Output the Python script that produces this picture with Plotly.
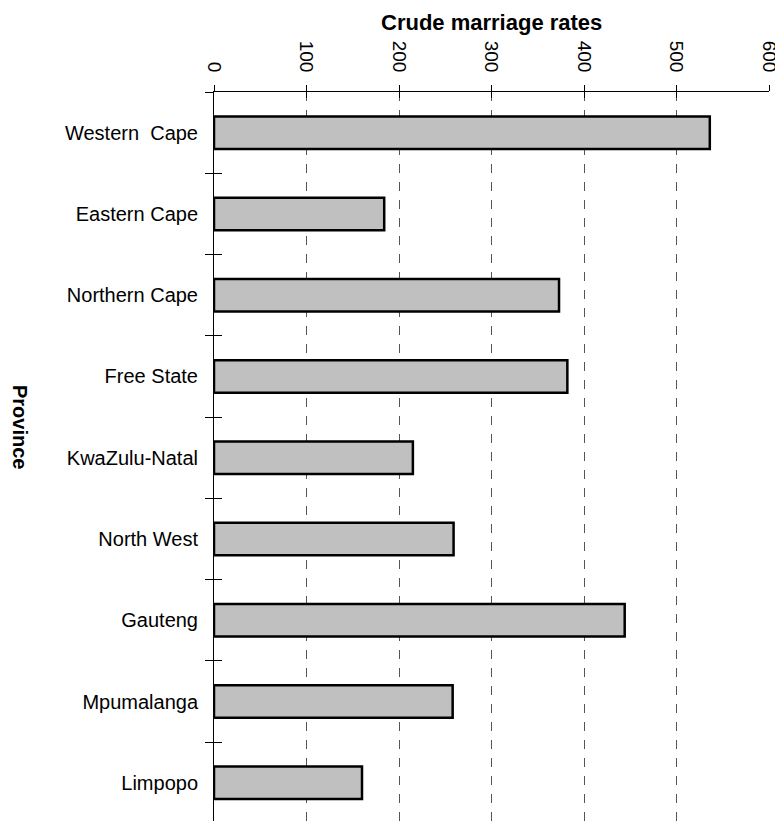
import plotly.graph_objects as go

provinces = ["Western \u00a0Cape", "Eastern Cape", "Northern Cape", "Free State",
             "KwaZulu-Natal", "North West", "Gauteng", "Mpumalanga", "Limpopo"]
rates = [536, 184, 373, 382, 215, 259, 444, 258, 160]
x_ticks = [0, 100, 200, 300, 400, 500, 600]

FONT = "Liberation Sans, Arial, sans-serif"

fig = go.Figure()
fig.add_trace(go.Bar(
    y=provinces, x=rates, orientation="h", width=0.4,
    marker=dict(color="#c0c0c0", line=dict(color="black", width=2.5)),
    showlegend=False, hoverinfo="x+y",
))
# invisible trace on overlay axes for inside ticks
fig.add_trace(go.Scatter(y=provinces, x=rates, xaxis="x2", yaxis="y2",
                         mode="markers", marker=dict(opacity=0), showlegend=False,
                         hoverinfo="skip"))

yrange = [8.47, -0.5]
fig.update_layout(
    width=775, height=813,
    margin=dict(l=206, r=14, t=84, b=0),
    plot_bgcolor="white", paper_bgcolor="white",
    font=dict(family=FONT, color="black"),
    xaxis=dict(side="top", range=[0, 600], tickvals=x_ticks, tickangle=90,
               ticks="outside", ticklen=6, tickcolor="black",
               showline=True, linecolor="black", linewidth=1,
               showgrid=True, gridcolor="#555555", griddash="dash", gridwidth=1,
               zeroline=False, tickfont=dict(size=19, family=FONT),
               ticklabelstandoff=6),
    xaxis2=dict(overlaying="x", side="top", range=[0, 600], tickvals=x_ticks,
                ticks="inside", ticklen=6, tickcolor="black", showticklabels=False,
                showgrid=False, zeroline=False, showline=False),
    yaxis=dict(type="category", categoryarray=provinces, range=yrange,
               tickson="boundaries", ticks="outside", ticklen=8, tickcolor="black",
               showline=True, linecolor="black", linewidth=1, showgrid=False,
               tickfont=dict(size=20, family=FONT), ticklabelstandoff=11),
    yaxis2=dict(type="category", categoryarray=provinces, range=yrange, overlaying="y",
                side="left", tickson="boundaries", ticks="inside", ticklen=8,
                tickcolor="black", showticklabels=False, showgrid=False,
                showline=False, zeroline=False),
    annotations=[
        dict(text="<b>Crude marriage rates</b>", xref="paper", yref="paper",
             x=0.5, y=1, yshift=70, xanchor="center", yanchor="middle",
             showarrow=False, font=dict(size=22, family=FONT)),
        dict(text="<b>Province</b>", xref="paper", yref="paper",
             x=0, xshift=-194, y=0.5405, xanchor="center", yanchor="middle",
             textangle=90, showarrow=False, font=dict(size=20, family=FONT)),
    ],
)
fig.write_html("out.html")
